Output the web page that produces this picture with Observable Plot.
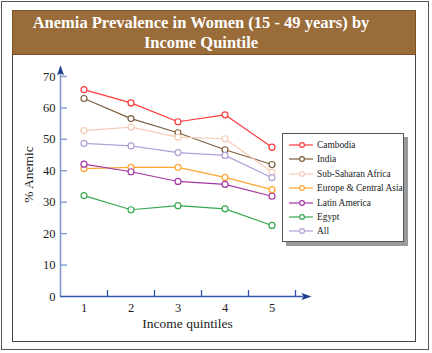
<!DOCTYPE html>
<html>
<head>
<meta charset="utf-8">
<script src="https://cdn.jsdelivr.net/npm/d3@7"></script>
<script src="https://cdn.jsdelivr.net/npm/@observablehq/plot@0.6"></script>
<style>
  html, body { margin: 0; padding: 0; background: #fff; }
  #page { position: relative; width: 432px; height: 353px; overflow: hidden; font-family: "Liberation Serif", "Times New Roman", serif; }
  #frame { position: absolute; left: 1px; top: 1px; width: 428px; height: 349px; border: 1px solid #555; box-sizing: border-box; }
  #title { position: absolute; left: 12px; top: 10px; width: 404px; height: 45px; background: #9a6c3a; border: 1px solid #7a5228; box-sizing: border-box;
           color: #fff; font-weight: bold; font-size: 16.5px; line-height: 20px; text-align: center; padding-top: 2px; padding-right: 26px; }
  #panel { position: absolute; left: 12px; top: 55px; width: 404px; height: 287px; border: 1px solid #444; border-top: none; box-sizing: border-box; background: #fff; }
  #chart { position: absolute; left: 0; top: 55px; }
  #legend { position: absolute; left: 282px; top: 133px; width: 122px; height: 109px; border: 1px solid #555; box-sizing: border-box; background: #fff;
            box-shadow: 4px 4px 0 #9a9a9a; }
  .li { position: absolute; left: 6px; height: 14px; font-size: 9.4px; line-height: 14px; color: #222; white-space: nowrap; }
  .li svg { position: absolute; left: 0; top: 0; }
  .li span { position: absolute; left: 28px; top: 0; }
</style>
</head>
<body>
<div id="page">
  <div id="frame"></div>
  <div id="title">Anemia Prevalence in Women (15 - 49 years) by<br>Income Quintile</div>
  <div id="panel"></div>
  <div id="chart"></div>
  <div id="legend"></div>
</div>
<script>
// ---- data ----
const quintiles = [1, 2, 3, 4, 5];
const seriesNames = ["Cambodia", "India", "Sub-Saharan Africa", "Europe & Central Asia", "Latin America", "Egypt", "All"];
const cambodia = [65.8, 61.6, 55.6, 57.8, 47.5];
const india = [63.0, 56.6, 52.1, 46.7, 42.0];
const subSaharanAfrica = [52.8, 53.9, 50.7, 50.2, 39.6];
const europeCentralAsia = [40.7, 41.1, 41.1, 37.9, 34.0];
const latinAmerica = [42.1, 39.7, 36.6, 35.7, 31.9];
const egypt = [32.1, 27.6, 28.9, 27.9, 22.6];
const all = [48.7, 47.9, 45.8, 44.9, 37.8];
const seriesColors = ["#ff3b3b", "#7d5f3f", "#f6cbb6", "#ffa530", "#a436a4", "#36a852", "#b49fd6"];
const yTicks = [0, 10, 20, 30, 40, 50, 60, 70];

const seriesValues = [cambodia, india, subSaharanAfrica, europeCentralAsia, latinAmerica, egypt, all];
const rows = [];
seriesNames.forEach((name, i) => {
  quintiles.forEach((q, j) => rows.push({series: name, quintile: q, value: seriesValues[i][j]}));
});

const serif = "Liberation Serif, Times New Roman, serif";
const axisBlue = "#7f9bd0";
const axisDark = "#2f56a8";
const arrowNavy = "#1d3c8c";

// custom arrowhead symbols (d3 symbol type interface)
const upArrow = { draw(ctx) { ctx.moveTo(0, -10); ctx.lineTo(3.5, 0); ctx.lineTo(0, -2); ctx.lineTo(-3.5, 0); ctx.closePath(); } };
const rightArrow = { draw(ctx) { ctx.moveTo(10, 0); ctx.lineTo(0, 3.5); ctx.lineTo(2, 0); ctx.lineTo(0, -3.5); ctx.closePath(); } };

const xPx = 47;            // px per quintile unit
const yPx = 220 / 70;      // px per % unit

const chart = Plot.plot({
  width: 432,
  height: 287,
  margin: 0,
  style: { background: "transparent", overflow: "visible" },
  x: { type: "linear", domain: [0.5, 5.5], range: [60, 295], axis: null },
  y: { type: "linear", domain: [0, 70], range: [241, 21], axis: null },
  color: { domain: seriesNames, range: seriesColors },
  marks: [
    // axes
    Plot.ruleX([0.5], { y1: 0, y2: 71, stroke: axisBlue, strokeWidth: 1.6 }),
    Plot.ruleY(yTicks.filter(t => t > 0), { x1: 0.5, x2: 0.5 + 7 / xPx, stroke: axisBlue, strokeWidth: 1.4 }),
    Plot.ruleY([0], { x1: 0.5, x2: 0.5 + 243 / xPx, stroke: axisDark, strokeWidth: 1.5 }),
    Plot.ruleX(quintiles.map(q => q + 0.5), { y1: 0, y2: 6 / yPx, stroke: axisDark, strokeWidth: 1.3 }),
    Plot.dot([0], { x: () => 0.5, y: () => 73.6 - 10 / yPx, symbol: upArrow, fill: arrowNavy, stroke: "none", r: 4 }),
    Plot.dot([0], { x: () => 0.5 + 241 / xPx, y: () => 0, symbol: rightArrow, fill: arrowNavy, stroke: "none", r: 4 }),
    Plot.text(yTicks, { x: () => 0.5, y: d => d, text: d => String(d), textAnchor: "end", dx: -5, fontSize: 12.5, fontFamily: serif, fill: "#222" }),
    Plot.text(quintiles, { x: d => d, y: () => 0, text: d => String(d), dy: 11, fontSize: 12.5, fontFamily: serif, fill: "#222" }),
    Plot.text(["% Anemic"], { frameAnchor: "top-left", dx: 28, dy: 119, rotate: -90, textAnchor: "middle", lineAnchor: "middle", fontSize: 13.5, fontFamily: serif, fill: "#222" }),
    Plot.text(["Income quintiles"], { frameAnchor: "top-left", dx: 187, dy: 268, textAnchor: "middle", lineAnchor: "middle", fontSize: 13.5, fontFamily: serif, fill: "#222" }),
    // data
    Plot.line(rows, { x: "quintile", y: "value", z: "series", stroke: "series", strokeWidth: 1.2 }),
    Plot.dot(rows, { x: "quintile", y: "value", stroke: "series", fill: "#fff", r: 3, strokeWidth: 1.2 })
  ]
});
document.getElementById("chart").appendChild(chart);

// legend
const legend = document.getElementById("legend");
seriesNames.forEach((name, i) => {
  const item = document.createElement("div");
  item.className = "li";
  item.style.top = (4 + i * 14.4) + "px";
  const c = seriesColors[i];
  item.innerHTML = `<svg width="28" height="14"><line x1="0" y1="7" x2="24" y2="7" stroke="${c}" stroke-width="1.2"/><circle cx="13" cy="7" r="2.4" fill="#fff" stroke="${c}" stroke-width="1.2"/></svg><span>${name}</span>`;
  legend.appendChild(item);
});
</script>
</body>
</html>
